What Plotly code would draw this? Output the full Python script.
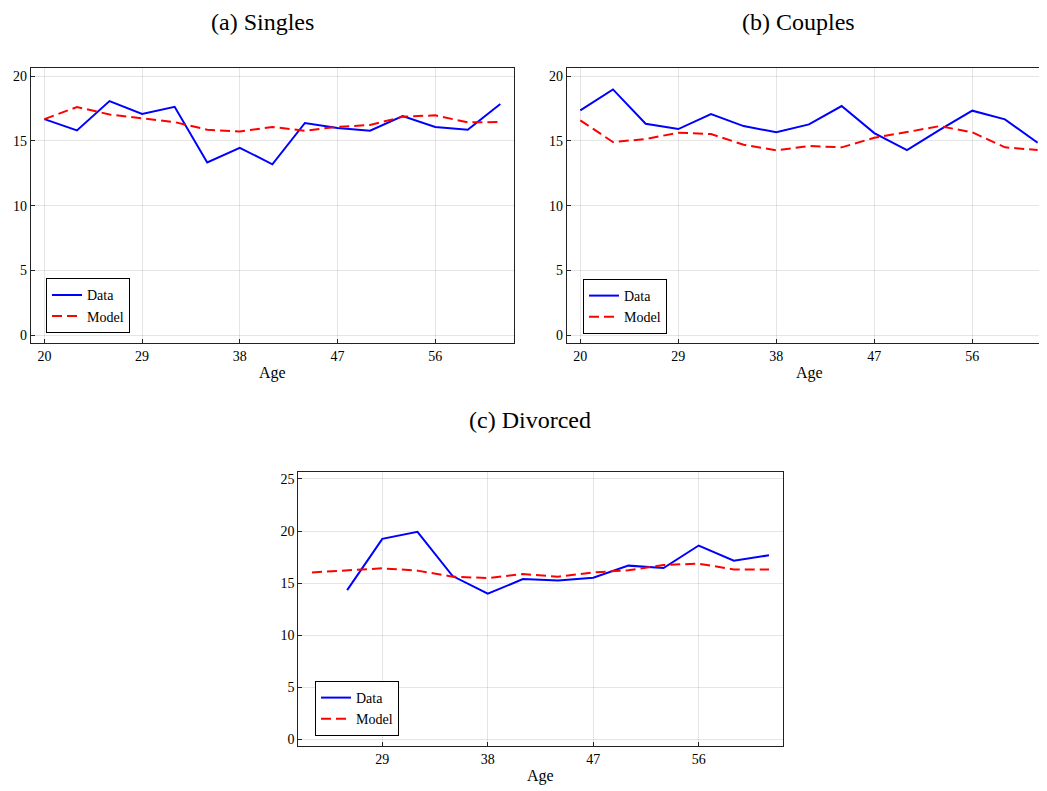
import plotly.graph_objects as go

# ---- data ----
ages_ab = [20, 23, 26, 29, 32, 35, 38, 41, 44, 47, 50, 53, 56, 59, 62]
singles_data = [16.68, 15.81, 18.07, 17.07, 17.63, 13.34, 14.47, 13.19, 16.38, 15.99, 15.78, 16.92, 16.07, 15.86, 17.84]
singles_model = [16.68, 17.61, 17.04, 16.76, 16.45, 15.86, 15.73, 16.07, 15.78, 16.09, 16.22, 16.86, 16.97, 16.43, 16.45]
couples_data = [17.35, 18.97, 16.32, 15.91, 17.07, 16.14, 15.66, 16.27, 17.69, 15.60, 14.29, 15.85, 17.33, 16.66, 14.86]
couples_model = [16.58, 14.91, 15.14, 15.63, 15.53, 14.70, 14.27, 14.60, 14.50, 15.24, 15.68, 16.14, 15.66, 14.50, 14.29]
ages_div_data = [26, 29, 32, 35, 38, 41, 44, 47, 50, 53, 56, 59, 62]
divorced_data = [14.33, 19.25, 19.92, 15.68, 13.98, 15.39, 15.26, 15.52, 16.68, 16.45, 18.61, 17.16, 17.67]
ages_div_model = [23, 26, 29, 32, 35, 38, 41, 44, 47, 50, 53, 56, 59, 62]
divorced_model = [16.03, 16.23, 16.42, 16.20, 15.62, 15.49, 15.87, 15.62, 16.03, 16.23, 16.74, 16.87, 16.32, 16.32]

panel_titles = ["(a) Singles", "(b) Couples", "(c) Divorced"]
xticks_ab = [20, 29, 38, 47, 56]
xticks_c = [29, 38, 47, 56]
yticks_ab = [0, 5, 10, 15, 20]
yticks_c = [0, 5, 10, 15, 20, 25]

# page body has an 8px margin; figure is laid out in page pixel coordinates
OFF = 8
W, H = 1047 - OFF, 791 - OFF
FONT = "Liberation Serif"

def px_x(p):
    return (p - OFF) / W

def px_y(p):
    return 1 - (p - OFF) / H

fig = go.Figure()

DATA_LINE = dict(color="#0000FF", width=2)
MODEL_LINE = dict(color="#FF0000", width=2, dash="10px,5px")

panels = [
    ("x", "y", "legend", ages_ab, singles_data, ages_ab, singles_model),
    ("x2", "y2", "legend2", ages_ab, couples_data, ages_ab, couples_model),
    ("x3", "y3", "legend3", ages_div_data, divorced_data, ages_div_model, divorced_model),
]
for xa, ya, lg, xd, yd, xm, ym in panels:
    fig.add_trace(go.Scatter(x=xd, y=yd, mode="lines", name="Data", line=DATA_LINE,
                             xaxis=xa, yaxis=ya, legend=lg))
    fig.add_trace(go.Scatter(x=xm, y=ym, mode="lines", name="Model", line=MODEL_LINE,
                             xaxis=xa, yaxis=ya, legend=lg))

axis_common = dict(
    showline=True, linecolor="#222", linewidth=1, mirror=True,
    ticks="inside", ticklen=4, tickcolor="#222", tickwidth=1,
    showgrid=True, gridcolor="rgba(0,0,0,0.1)", gridwidth=1,
    zeroline=False, tickfont=dict(family=FONT, size=14, color="black"),
)

dom_y_ab = [px_y(343.3), px_y(68.3)]
dom_y_c = [px_y(746), px_y(471.7)]

fig.update_layout(
    width=W, height=H,
    margin=dict(l=0, r=0, t=0, b=0),
    paper_bgcolor="white", plot_bgcolor="white",
    font=dict(family=FONT, color="black"),
    xaxis=dict(axis_common, domain=[px_x(30.7), px_x(514)], range=[18.74, 63.26],
               tickvals=xticks_ab, anchor="y"),
    yaxis=dict(axis_common, domain=dom_y_ab, range=[-0.62, 20.6], tickvals=yticks_ab, anchor="x"),
    xaxis2=dict(axis_common, domain=[px_x(566.7), 1.0], range=[18.75, 62.86],
                tickvals=xticks_ab, anchor="y2"),
    yaxis2=dict(axis_common, domain=dom_y_ab, range=[-0.62, 20.6], tickvals=yticks_ab, anchor="x2"),
    xaxis3=dict(axis_common, domain=[px_x(298.3), px_x(782.7)], range=[21.83, 63.17],
                tickvals=xticks_c, anchor="y3"),
    yaxis3=dict(axis_common, domain=dom_y_c, range=[-0.64, 25.7], tickvals=yticks_c, anchor="x3"),
)

legend_common = dict(
    bgcolor="white", bordercolor="black", borderwidth=1,
    font=dict(family=FONT, size=14, color="black"),
    xanchor="left", yanchor="bottom", itemwidth=30, tracegroupgap=0,
)
fig.update_layout(
    legend=dict(legend_common, x=px_x(46), y=px_y(333.3)),
    legend2=dict(legend_common, x=px_x(583), y=px_y(334)),
    legend3=dict(legend_common, x=px_x(315), y=px_y(736)),
)

# titles: top panels anchored to the top edge so they are not clipped
title_specs = [(262, 8, "top"), (798, 8, "top"), (530, 420, "middle")]
for t, (cx, cy, anc) in zip(panel_titles, title_specs):
    fig.add_annotation(text=t, x=px_x(cx), y=px_y(cy), xref="paper", yref="paper",
                       xanchor="center", yanchor=anc, showarrow=False, borderpad=0,
                       font=dict(family=FONT, size=24, color="black"))

age_pos = [(272, 373), (809, 373), (540, 776)]
for cx, cy in age_pos:
    fig.add_annotation(text="Age", x=px_x(cx), y=px_y(cy), xref="paper", yref="paper",
                       xanchor="center", yanchor="middle", showarrow=False,
                       font=dict(family=FONT, size=16, color="black"))

fig.write_html("out.html")
